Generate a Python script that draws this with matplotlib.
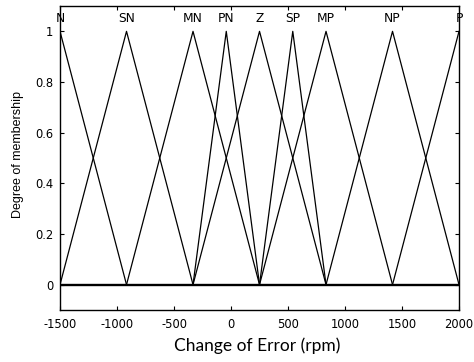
import numpy as np
import matplotlib
matplotlib.use("Agg")
import matplotlib.pyplot as plt

# Membership function definitions: (name, left foot, peak, right foot)
names = ["N", "SN", "MN", "PN", "Z", "SP", "MP", "NP", "P"]
lefts = [-1500, -1500, -916.67, -333.33, -333.33, 250, 250, 833.33, 1416.67]
peaks = [-1500, -916.67, -333.33, -41.67, 250, 541.67, 833.33, 1416.67, 2000]
rights = [-916.67, -333.33, 250, 250, 833.33, 833.33, 1416.67, 2000, 2000]

xmin, xmax = -1500, 2000
xticks = [-1500, -1000, -500, 0, 500, 1000, 1500, 2000]
yticks = [0, 0.2, 0.4, 0.6, 0.8, 1]
yticklabels = ["0", "0.2", "0.4", "0.6", "0.8", "1"]

fig = plt.figure(figsize=(4.74, 3.62), dpi=100)
ax = fig.add_axes([0.1266, 0.1436, 0.8418, 0.8398])

for name, a, b, c in zip(names, lefts, peaks, rights):
    if a == b:
        xp, yp = [b, c, xmax], [1, 0, 0]
    elif b == c:
        xp, yp = [xmin, a, b], [0, 0, 1]
    else:
        xp, yp = [xmin, a, b, c, xmax], [0, 0, 1, 0, 0]
    ax.plot(xp, yp, color="black", linewidth=0.9)
    ax.text(b, 1.05, name, ha="center", va="center", fontsize=8.8,
            family="DejaVu Sans")

ax.plot([xmin, xmax], [0, 0], color="black", linewidth=1.7)

ax.set_xlim(xmin, xmax)
ax.set_ylim(-0.1, 1.1)
ax.set_xticks(xticks)
ax.set_yticks(yticks)
ax.set_xticklabels([str(v) for v in xticks], family="DejaVu Sans", fontsize=8.3)
ax.set_yticklabels(yticklabels, family="DejaVu Sans", fontsize=8.3)
ax.tick_params(direction="in", top=True, right=True, length=3, width=0.8)
ax.tick_params(axis="x", pad=6)
ax.tick_params(axis="y", pad=5)
for s in ax.spines.values():
    s.set_linewidth(1.0)

ax.set_xlabel("Change of Error (rpm)", family="Lato", fontsize=12.5)
ax.xaxis.set_label_coords(0.495, -0.09)
ax.set_ylabel("Degree of membership", family="Liberation Sans", fontsize=9.0)
ax.yaxis.set_label_coords(-0.09, 0.51)

fig.savefig("out.png", dpi=100)
